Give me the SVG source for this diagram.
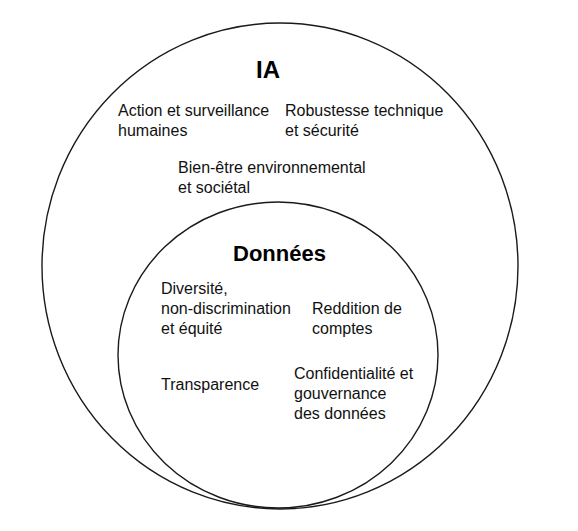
<svg xmlns="http://www.w3.org/2000/svg" width="578" height="531" viewBox="0 0 578 531">
<style>
.c{fill:none;stroke:#1a1a1a;stroke-width:1.4}
.t{font-family:"Liberation Sans",Arial,sans-serif;font-size:16px;fill:#111}
.h{font-family:"Liberation Sans",Arial,sans-serif;font-weight:bold;fill:#000}
</style>
<rect width="578" height="531" fill="#fff"/>
<g id="ia">
<ellipse class="c" cx="280" cy="266" rx="238" ry="243"/>
<text class="h" x="268" y="78" font-size="24" text-anchor="middle">IA</text>
<text class="t" x="118" y="116">Action et surveillance<tspan x="118" dy="20">humaines</tspan></text>
<text class="t" x="285" y="116">Robustesse technique<tspan x="285" dy="20">et sécurité</tspan></text>
<text class="t" x="178" y="173">Bien-être environnemental<tspan x="178" dy="20">et sociétal</tspan></text>
</g>
<g id="donnees">
<ellipse class="c" cx="278" cy="355" rx="160" ry="153"/>
<text class="h" x="233" y="261" font-size="22">Données</text>
<text class="t" x="161" y="294">Diversité,<tspan x="161" dy="20">non-discrimination</tspan><tspan x="161" dy="20">et équité</tspan></text>
<text class="t" x="312" y="314">Reddition de<tspan x="312" dy="20">comptes</tspan></text>
<text class="t" x="161" y="390">Transparence</text>
<text class="t" x="294" y="379">Confidentialité et<tspan x="294" dy="20">gouvernance</tspan><tspan x="294" dy="20">des données</tspan></text>
</g>
<g id="connectors"/>
</svg>
